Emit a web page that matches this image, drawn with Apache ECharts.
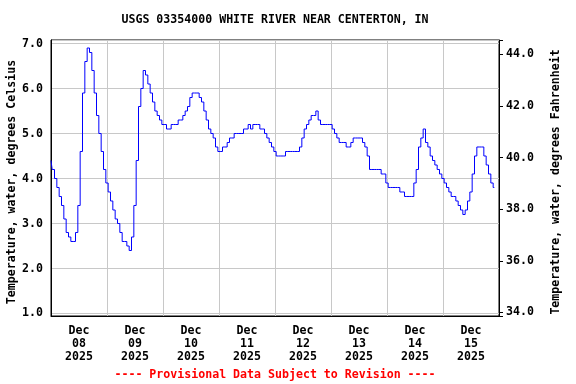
<!DOCTYPE html>
<html>
<head>
<meta charset="utf-8">
<script src="https://cdn.jsdelivr.net/npm/echarts@6/dist/echarts.min.js"></script>
<style>html,body{margin:0;padding:0;background:#fff}#c{width:576px;height:384px}</style>
</head>
<body>
<div id="c"></div>
<script>
// Hourly water temperature (deg C), starting Dec 08 2025 00:00
const tempC = [
  4.4,4.2,4.0,3.8,3.6,3.4,3.1,2.8,2.7,2.6,2.6,2.8,3.4,4.6,5.9,6.6,6.9,6.8,6.4,5.9,5.4,5.0,4.6,4.2,
  3.9,3.7,3.5,3.3,3.1,3.0,2.8,2.6,2.6,2.5,2.4,2.7,3.4,4.4,5.6,6.0,6.4,6.3,6.1,5.9,5.7,5.5,5.4,5.3,
  5.2,5.2,5.1,5.1,5.2,5.2,5.2,5.3,5.3,5.4,5.5,5.6,5.8,5.9,5.9,5.9,5.8,5.7,5.5,5.3,5.1,5.0,4.9,4.7,
  4.6,4.6,4.7,4.7,4.8,4.9,4.9,5.0,5.0,5.0,5.0,5.1,5.1,5.2,5.1,5.2,5.2,5.2,5.1,5.1,5.0,4.9,4.8,4.7,
  4.6,4.5,4.5,4.5,4.5,4.6,4.6,4.6,4.6,4.6,4.6,4.7,4.9,5.1,5.2,5.3,5.4,5.4,5.5,5.3,5.2,5.2,5.2,5.2,
  5.2,5.1,5.0,4.9,4.8,4.8,4.8,4.7,4.7,4.8,4.9,4.9,4.9,4.9,4.8,4.7,4.5,4.2,4.2,4.2,4.2,4.2,4.1,4.1,
  3.9,3.8,3.8,3.8,3.8,3.8,3.7,3.7,3.6,3.6,3.6,3.6,3.9,4.2,4.7,4.9,5.1,4.8,4.7,4.5,4.4,4.3,4.2,4.1,
  4.0,3.9,3.8,3.7,3.6,3.6,3.5,3.4,3.3,3.2,3.3,3.5,3.7,4.1,4.5,4.7,4.7,4.7,4.5,4.3,4.1,3.9,3.8
];
const dayMonths = ['Dec','Dec','Dec','Dec','Dec','Dec','Dec','Dec'];
const dayNums = ['08','09','10','11','12','13','14','15'];
const dayYears = ['2025','2025','2025','2025','2025','2025','2025','2025'];
const titleText = 'USGS 03354000 WHITE RIVER NEAR CENTERTON, IN';
const footerText = '---- Provisional Data Subject to Revision ----';
const leftName = 'Temperature, water, degrees Celsius';
const rightName = 'Temperature, water, degrees Fahrenheit';

const dayLabels = dayMonths.map((m,i)=>m+'\n'+dayNums[i]+'\n'+dayYears[i]);
const seriesData = tempC.map((v,i)=>[i, v]);
const FONT = '"DejaVu Sans Mono", monospace';
const isInt = (v, step) => Math.abs(v/step - Math.round(v/step)) < 1e-6;

const chart = echarts.init(document.getElementById('c'), null, {renderer:'canvas'});
chart.setOption({
  animation: false,
  backgroundColor: '#fff',
  grid: {left: 51, right: 77, top: 40, bottom: 68, show: true, borderColor: '#000', borderWidth: 1,
         containLabel: false, outerBoundsMode: 'none'},
  graphic: [
    {type:'text', x: 275, y: 14, style:{text: titleText, font: 'bold 11.6px '+FONT, fill:'#000', align:'center', textAlign:'center'}},
    {type:'text', x: 275, y: 369, style:{text: footerText, font: 'bold 11.6px '+FONT, fill:'#ff0000', align:'center', textAlign:'center'}}
  ],
  xAxis: [
    {type:'value', min: 0, max: 192, interval: 24, axisLabel:{show:false}, axisTick:{show:false},
     axisLine:{show:true, lineStyle:{color:'#000'}},
     splitLine:{show:true, lineStyle:{color:'#c8c8c8', width:1}}},
    {type:'category', data: dayLabels, position:'bottom', boundaryGap: true,
     axisLine:{show:false}, axisTick:{show:false}, splitLine:{show:false},
     axisLabel:{margin: 8, fontFamily: FONT, fontWeight:'bold', fontSize: 11.6, lineHeight: 13, color:'#000', interval: 0}}
  ],
  yAxis: [
    {type:'value', position:'left', min: 0.944, max: 7.078, minInterval: 1, maxInterval: 1,
     name: leftName, nameLocation:'middle', nameRotate: 90, nameGap: 33, nameMoveOverlap: false,
     nameTextStyle:{fontFamily: FONT, fontWeight:'bold', fontSize: 11.6, color:'#000', padding:[0,0,0,-8]},
     axisLine:{show:true, lineStyle:{color:'#000'}}, axisTick:{show:false},
     axisLabel:{margin: 8, fontFamily: FONT, fontWeight:'bold', fontSize: 11.6, color:'#000',
       formatter: v => isInt(v,1) ? v.toFixed(1) : ''},
     splitLine:{show:true, lineStyle:{color:'#c8c8c8', width:1}}},
    {type:'value', position:'right', min: 33.86, max: 44.56, minInterval: 2, maxInterval: 2,
     name: rightName, nameLocation:'middle', nameRotate: 90, nameGap: 51, nameMoveOverlap: false,
     nameTextStyle:{fontFamily: FONT, fontWeight:'bold', fontSize: 11.6, color:'#000', padding:[0,0,0,-8]},
     axisLine:{show:true, lineStyle:{color:'#000'}}, axisTick:{show:true, inside:false, length: 4, lineStyle:{color:'#000'}},
     axisLabel:{margin: 7, fontFamily: FONT, fontWeight:'bold', fontSize: 11.6, color:'#000',
       formatter: v => isInt(v,2) ? v.toFixed(1) : ''},
     splitLine:{show:false}}
  ],
  series: [{
    type:'line', xAxisIndex: 0, yAxisIndex: 0, data: seriesData, step: 'middle',
    showSymbol: false, symbol: 'none', lineStyle:{color:'#0000ff', width: 1}
  }]
});
</script>
</body>
</html>
